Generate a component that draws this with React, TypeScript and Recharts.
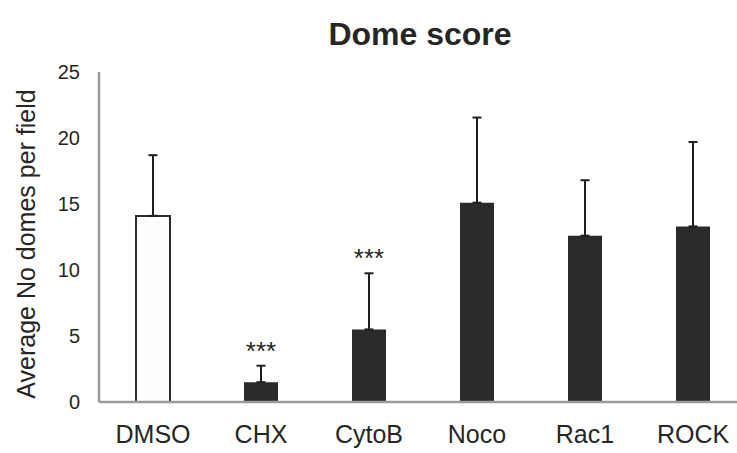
import { Bar, BarChart, Cell, ErrorBar, LabelList, XAxis, YAxis } from "recharts";

const CATEGORIES = ["DMSO", "CHX", "CytoB", "Noco", "Rac1", "ROCK"];
const MEANS = [14.1, 1.5, 5.5, 15.1, 12.6, 13.3];
const SD = [4.6, 1.25, 4.25, 6.45, 4.2, 6.4];
const SIG = ["", "***", "***", "", "", ""];
const Y_TICKS = [0, 5, 10, 15, 20, 25];

const FONT = "'Liberation Sans', Arial, sans-serif";
const INK = "#262626";
const AXIS = "#9a9a9a";
const DARK = "#2b2a29";

const data = CATEGORIES.map((name, i) => ({
  name,
  mean: MEANS[i],
  err: [0, SD[i]],
  sig: SIG[i],
}));

function SigLabel(props: any) {
  const { x, y, width, height, value, index } = props;
  if (!value) return null;
  const perUnit = height / MEANS[index];
  const errTop = y - SD[index] * perUnit;
  return (
    <text
      x={x + width / 2}
      y={errTop - 6}
      textAnchor="middle"
      fontSize={26}
      fontFamily={FONT}
      fill={INK}
    >
      {value}
    </text>
  );
}

export default function App() {
  return (
    <div
      style={{
        position: "absolute",
        left: 0,
        top: 0,
        width: 737,
        height: 453,
        overflow: "hidden",
        background: "#fff",
      }}
    >
      <BarChart
        width={760}
        height={453}
        data={data}
        margin={{ top: 72, right: 13, bottom: 0, left: 0 }}
      >
        <text
          x={420}
          y={45}
          textAnchor="middle"
          fontSize={32}
          fontWeight="bold"
          fontFamily={FONT}
          fill={INK}
        >
          Dome score
        </text>
        <XAxis
          dataKey="name"
          height={51}
          tickLine={false}
          tickSize={0}
          tickMargin={23}
          axisLine={{ stroke: AXIS, strokeWidth: 2.5 }}
          tick={{ fontSize: 25, fontFamily: FONT, fill: INK }}
        />
        <YAxis
          width={99}
          domain={[0, 25]}
          ticks={Y_TICKS}
          interval={0}
          tickLine={false}
          tickSize={0}
          tickMargin={19}
          axisLine={{ stroke: AXIS, strokeWidth: 2.5 }}
          tick={{ fontSize: 20, fontFamily: FONT, fill: INK }}
          label={{
            content: ({ viewBox }: any) => (
              <text
                x={26}
                y={viewBox.y + viewBox.height / 2 + 7}
                transform={`rotate(-90 26 ${viewBox.y + viewBox.height / 2 + 7})`}
                textAnchor="middle"
                dominantBaseline="central"
                fontSize={25}
                fontFamily={FONT}
                fill={INK}
              >
                Average No domes per field
              </text>
            ),
          }}
        />
        <Bar dataKey="mean" barSize={34} isAnimationActive={false}>
          {data.map((_, i) => (
            <Cell
              key={i}
              fill={i === 0 ? "#fdfdfd" : DARK}
              stroke={i === 0 ? "#2d2d2d" : DARK}
              strokeWidth={i === 0 ? 2 : 0}
            />
          ))}
          <ErrorBar
            dataKey="err"
            width={4.5}
            stroke="#1f1f1f"
            strokeWidth={2}
            isAnimationActive={false}
          />
          <LabelList dataKey="sig" content={SigLabel} />
        </Bar>
      </BarChart>
    </div>
  );
}
